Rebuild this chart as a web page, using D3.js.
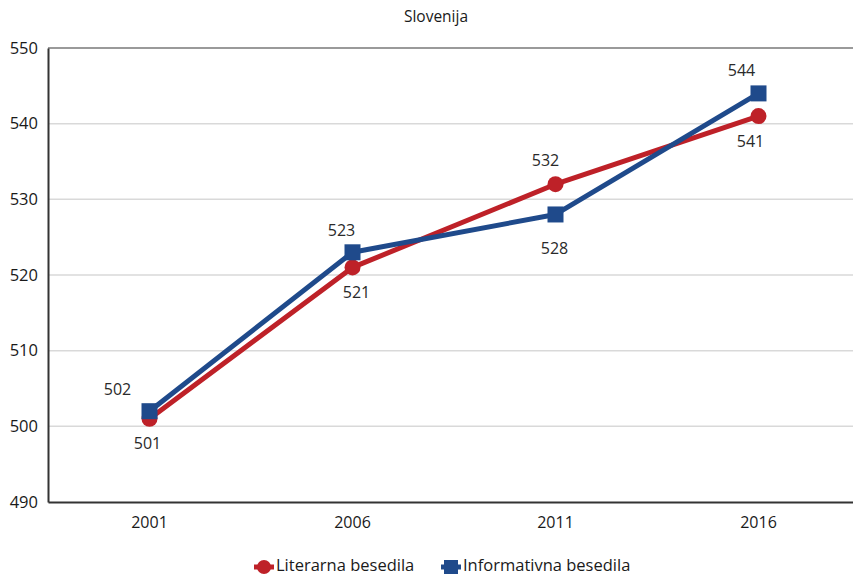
<!DOCTYPE html>
<html>
<head>
<meta charset="utf-8">
<script src="https://cdn.jsdelivr.net/npm/d3@7"></script>
<style>
  html, body { margin: 0; padding: 0; background: #fff; }
  svg { display: block; font-family: "Open Sans", "Noto Sans", sans-serif; }
</style>
</head>
<body>
<svg id="chart" width="853" height="576"></svg>
<script>
// Reading scores by year and text type
const years = ["2001", "2006", "2011", "2016"];
const literarna = [501, 521, 532, 541];
const informativna = [502, 523, 528, 544];
const yTicks = [490, 500, 510, 520, 530, 540, 550];
const seriesNames = ["Literarna besedila", "Informativna besedila"];

const colors = { lit: "#BE2128", inf: "#1F4A8B" };

const svg = d3.select("#chart");
const margin = { left: 48, top: 48, bottom: 502 };
const plotRight = 860;

const x = d3.scaleBand().domain(years).range([margin.left, plotRight]);
const y = d3.scaleLinear().domain([490, 550]).range([margin.bottom, margin.top]);
const cx = d => x(d) + x.bandwidth() / 2;

// Title
svg.append("text")
  .attr("x", 436).attr("y", 22)
  .attr("text-anchor", "middle")
  .attr("font-size", 15.5).attr("fill", "#1a1a1a")
  .text("Slovenija");

// Gridlines
svg.append("g").selectAll("line")
  .data(yTicks.filter(t => t > 490 && t < 550))
  .join("line")
  .attr("x1", margin.left).attr("x2", 853)
  .attr("y1", d => y(d)).attr("y2", d => y(d))
  .attr("stroke", "#d9d9d9").attr("stroke-width", 1.5);

// Top border line
svg.append("line")
  .attr("x1", margin.left).attr("x2", 853)
  .attr("y1", y(550)).attr("y2", y(550))
  .attr("stroke", "#9a9a9a").attr("stroke-width", 2);

// Y axis
const yAxis = svg.append("g")
  .attr("transform", `translate(${margin.left},0)`)
  .call(d3.axisLeft(y).tickValues(yTicks).tickSize(0).tickPadding(10));
yAxis.select(".domain").attr("stroke", "#333").attr("stroke-width", 2);
yAxis.selectAll("text").attr("font-size", 16.5).attr("fill", "#1a1a1a")
  .attr("font-family", "'Open Sans', sans-serif");

// X axis
const xAxis = svg.append("g")
  .attr("transform", `translate(0,${margin.bottom})`)
  .call(d3.axisBottom(x).tickSize(0).tickPadding(15));
xAxis.select(".domain").attr("stroke", "#333").attr("stroke-width", 2);
xAxis.selectAll("text").attr("font-size", 16).attr("fill", "#1a1a1a")
  .attr("font-family", "'Open Sans', sans-serif");

const line = d3.line().x((d, i) => cx(years[i])).y(d => y(d));

// Literarna besedila line (drawn first, beneath)
svg.append("path")
  .datum(literarna)
  .attr("d", line)
  .attr("fill", "none").attr("stroke", colors.lit)
  .attr("stroke-width", 5).attr("stroke-linejoin", "round");

svg.append("g").selectAll("circle")
  .data(literarna)
  .join("circle")
  .attr("cx", (d, i) => cx(years[i])).attr("cy", d => y(d))
  .attr("r", 8).attr("fill", colors.lit);

// Informativna besedila line
svg.append("path")
  .datum(informativna)
  .attr("d", line)
  .attr("fill", "none").attr("stroke", colors.inf)
  .attr("stroke-width", 5).attr("stroke-linejoin", "round");

svg.append("g").selectAll("rect")
  .data(informativna)
  .join("rect")
  .attr("x", (d, i) => cx(years[i]) - 8).attr("y", d => y(d) - 8)
  .attr("width", 16).attr("height", 16).attr("fill", colors.inf);

// Value labels: [dx, dy] offsets from each point
const litOffsets = [[-2, 26], [4, 26], [-10, -22], [-8, 27]];
const infOffsets = [[-32, -20], [-11, -21], [-1, 35], [-17, -22]];

function labels(values, offsets) {
  svg.append("g").selectAll("text")
    .data(values)
    .join("text")
    .attr("x", (d, i) => cx(years[i]) + offsets[i][0])
    .attr("y", (d, i) => y(d) + offsets[i][1])
    .attr("text-anchor", "middle")
    .attr("dominant-baseline", "middle")
    .attr("font-size", 16).attr("fill", "#2a2a2a")
    .text(d => d);
}
labels(literarna, litOffsets);
labels(informativna, infOffsets);

// Legend
const legend = svg.append("g").attr("transform", "translate(0,567)");
const legendItems = [
  { name: seriesNames[0], color: colors.lit, shape: "circle", x: 264 },
  { name: seriesNames[1], color: colors.inf, shape: "square", x: 451 }
];
legendItems.forEach(it => {
  legend.append("line")
    .attr("x1", it.x - 10).attr("x2", it.x + 10)
    .attr("y1", 0).attr("y2", 0)
    .attr("stroke", it.color).attr("stroke-width", 5);
  if (it.shape === "circle") {
    legend.append("circle").attr("cx", it.x).attr("cy", 0).attr("r", 7).attr("fill", it.color);
  } else {
    legend.append("rect").attr("x", it.x - 7).attr("y", -7).attr("width", 14).attr("height", 14).attr("fill", it.color);
  }
  legend.append("text")
    .attr("x", it.x + 12).attr("y", 0)
    .attr("dominant-baseline", "middle")
    .attr("font-size", 16.5).attr("fill", "#1a1a1a")
    .text(it.name);
});
</script>
</body>
</html>
